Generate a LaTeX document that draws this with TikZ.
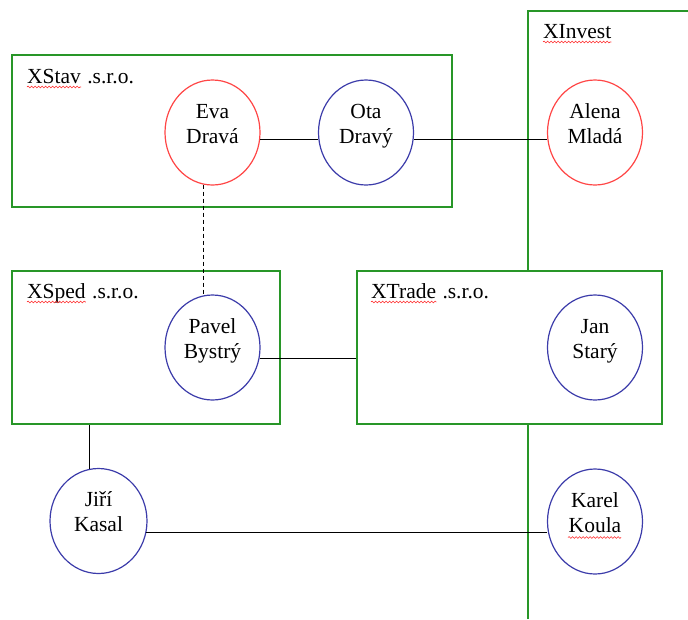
\documentclass[tikz,border=0pt]{standalone}
\usepackage{fontspec}
\setmainfont{Liberation Serif}
\usetikzlibrary{shapes.geometric,decorations.pathmorphing}
\definecolor{boxgreen}{RGB}{40,150,40}
\definecolor{pred}{RGB}{255,70,70}
\definecolor{pblue}{RGB}{60,60,170}
\definecolor{spellred}{RGB}{255,40,40}
\newcommand{\twolines}[2]{\begin{tabular}[t]{@{}c@{}}#1\\#2\end{tabular}}
\begin{document}
\begin{tikzpicture}[x=1pt,y=-1pt,
  font=\fontsize{21.5}{25}\selectfont,
  company/.style={draw=boxgreen, line width=1.2pt, fill=white, rectangle, inner sep=0pt},
  person/.style={ellipse, line width=1.2pt, fill=white, minimum width=95pt,
     minimum height=105pt, inner sep=0pt, text height=1pt, text depth=30pt},
  woman/.style={person, draw=pred},
  man/.style={person, draw=pblue},
  lbl/.style={anchor=base west, inner sep=0pt},
  link/.style={draw=black, line width=1pt},
  spell/.style={draw=spellred, line width=0.6pt, decorate,
     decoration={snake, amplitude=0.9pt, segment length=3.5pt}}]

\useasboundingbox (0,0) rectangle (688,619);

% XInvest (open area running off the picture)
\coordinate (invbottom) at (528,619);
\coordinate (invtop) at (528,11);
\coordinate (invright) at (688,11);
\draw[draw=boxgreen, line width=1.2pt] (invbottom) -- (invtop) -- (invright);

% companies
\node[company, minimum width=440pt, minimum height=152pt] (xstav) at (232,131) {};
\node[company, minimum width=268pt, minimum height=153pt] (xsped) at (146,347.5) {};
\node[company, minimum width=305pt, minimum height=153pt] (xtrade) at (509.5,347.5) {};

% people
\node[woman] (eva)   at (212.5,132.5) {\twolines{Eva}{Dravá}};
\node[man]   (ota)   at (366,132.5)   {\twolines{Ota}{Dravý}};
\node[woman] (alena) at (595,132.5)   {\twolines{Alena}{Mladá}};
\node[man]   (pavel) at (212.5,347.5) {\twolines{Pavel}{Bystrý}};
\node[man]   (jan)   at (595,347.5)   {\twolines{Jan}{Starý}};
\node[man, minimum width=97pt] (jiri) at (98.5,521) {\twolines{Jiří}{Kasal}};
\node[man]   (karel) at (595,521.5)   {\twolines{Karel}{Koula}};

% connectors
\draw[link] (eva.-8) -- (ota.188);
\draw[link] (ota.-8) -- (alena.188);
\draw[link, dash pattern=on 4pt off 3pt] (eva.-100) -- (pavel.100);
\draw[link] (pavel.-13) -- (pavel.-13 -| xtrade.west);
\draw[link] (jiri.100) -- (jiri.100 |- xsped.south);
\draw[link] (jiri.-14) -- (jiri.-14 -| karel.west);

% company labels
\node[lbl] (stavw) at (27,83) {XStav};
\node[lbl] (stavs) at ([xshift=6pt]stavw.base east) {.s.r.o.};
\node[lbl] (spedw) at (27,298) {XSped};
\node[lbl] (speds) at ([xshift=6pt]spedw.base east) {.s.r.o.};
\node[lbl] (tradew) at (371,298) {XTrade};
\node[lbl] (trades) at ([xshift=6pt]tradew.base east) {.s.r.o.};
\node[lbl] (investw) at (543,38) {XInvest};

% spell-check marks
\draw[spell] ([yshift=-4pt]stavw.base west) -- ([yshift=-4pt]stavw.base east);
\draw[spell] ([yshift=-4pt]spedw.base west) -- ([yshift=-4pt]spedw.base east);
\draw[spell] ([yshift=-4pt]tradew.base west) -- ([yshift=-4pt]tradew.base east);
\draw[spell] ([yshift=-4pt]investw.base west) -- ([yshift=-4pt]investw.base east);
\draw[spell] ([xshift=-27pt,yshift=-16pt]karel.center) -- ([xshift=26pt,yshift=-16pt]karel.center);

\end{tikzpicture}
\end{document}
